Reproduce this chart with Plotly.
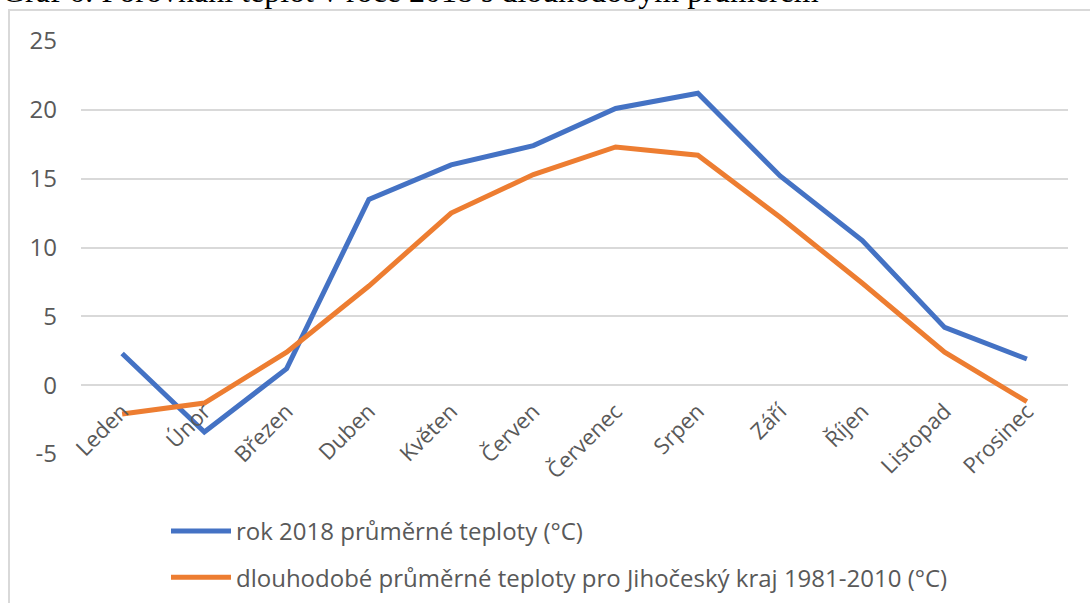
import plotly.graph_objects as go

months = ["Leden", "Únor", "Březen", "Duben", "Květen", "Červen",
          "Červenec", "Srpen", "Září", "Říjen", "Listopad", "Prosinec"]
t2018 = [2.3, -3.4, 1.2, 13.5, 16.0, 17.4, 20.1, 21.2, 15.2, 10.5, 4.2, 1.9]
t_long = [-2.1, -1.3, 2.4, 7.2, 12.5, 15.3, 17.3, 16.7, 12.2, 7.4, 2.4, -1.2]
y_ticks = [-5, 0, 5, 10, 15, 20, 25]
y_labels = ["-5", "0", "5", "10", "15", "20", "25"]

name_2018 = "rok 2018 průměrné teploty (°C)"
name_long = "dlouhodobé průměrné teploty pro Jihočeský kraj 1981-2010 (°C)"
title = "Graf 6: Porovnání teplot v roce 2018 s dlouhodobým průměrem"

fig = go.Figure()
fig.add_trace(go.Scatter(x=months, y=t2018, mode="lines", name=name_2018,
                         legendgroup="a",
                         line=dict(color="#4472C4", width=5)))
fig.add_trace(go.Scatter(x=months, y=t_long, mode="lines", name=name_long,
                         legendgroup="b",
                         line=dict(color="#ED7D31", width=5)))

W, H = 1090, 603
L, R, T, B = 81, 22, 41, 149
pw, ph = W - L - R, H - T - B

def px(x):
    return (x - L) / pw

def py(y):
    return (H - B - y) / ph

fig.update_layout(
    width=W, height=H,
    margin=dict(l=L, r=R, t=T, b=B, autoexpand=False),
    plot_bgcolor="white", paper_bgcolor="white",
    font=dict(family="Open Sans", size=22, color="#595959"),
    showlegend=True,
    legend=dict(x=px(166), y=py(509), xanchor="left", yanchor="top",
                tracegroupgap=12, itemwidth=60,
                font=dict(size=24, color="#595959")),
    xaxis=dict(type="category", range=[-0.5, 11.5], showgrid=False,
               showline=False, zeroline=False, tickangle=-45,
               anchor="free", position=5 / 30, ticks="",
               ticklabelstandoff=8, automargin=False),
    yaxis=dict(range=[-5, 25], tickvals=y_ticks, ticktext=y_labels,
               tickfont=dict(size=24),
               showgrid=True, gridcolor="#d9d9d9",
               gridwidth=2, zeroline=False, showline=False,
               ticklabelstandoff=23, automargin=False),
    shapes=[dict(type="rect", xref="paper", yref="paper",
                 x0=px(9), x1=1.1, y0=-0.6, y1=py(10),
                 line=dict(color="#d9d9d9", width=2), layer="below")],
    annotations=[dict(text=title, xref="paper", yref="paper",
                      x=px(0), y=py(10), xanchor="left", yanchor="bottom",
                      yshift=-1, showarrow=False,
                      font=dict(family="Liberation Serif", size=32,
                                color="black"))],
)

# the page body has a default 8px margin; drop it so the chart sits at 0,0
fig.write_html("out.html", config={"displayModeBar": False},
               post_script="document.body.style.margin = '0';")
